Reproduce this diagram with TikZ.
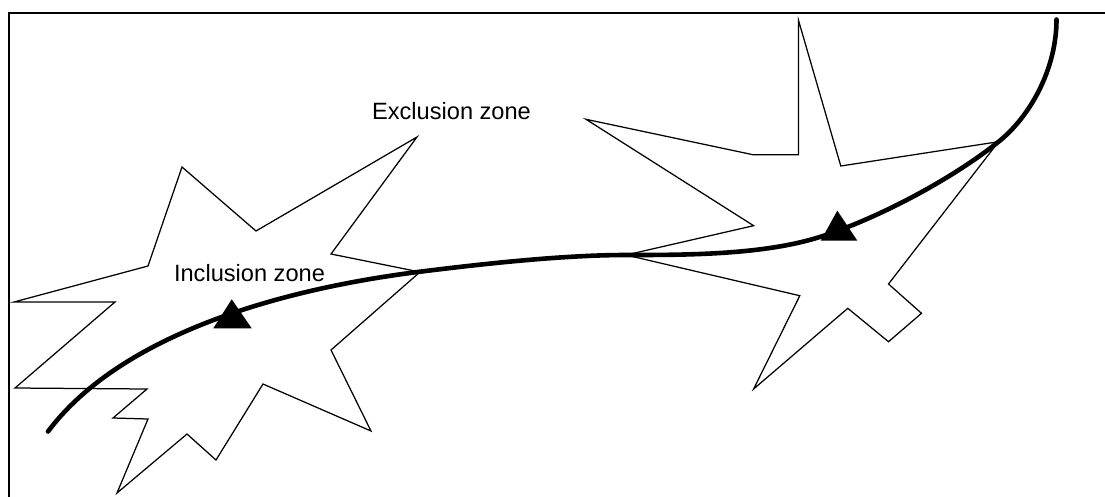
\documentclass[tikz,border=0pt]{standalone}
\usepackage{fontspec}
\setmainfont{Liberation Sans}
\begin{document}
\begin{tikzpicture}[x=1pt,y=-1pt,
  zone/.style={draw=black,line width=1.25pt,line join=miter},
  track/.style={draw=black,line width=4.6pt,line cap=round},
  marker/.style={fill=black,draw=none},
  frameline/.style={draw=black,line width=2pt},
  lbl/.style={font=\fontsize{23.6}{27}\selectfont,inner sep=0pt,anchor=base}]
\useasboundingbox (0,0) rectangle (1105,496);
\fill[white] (0,0) rectangle (1105,496);
% frame
\draw[frameline] (8.5,500) -- (8.5,13.3) -- (1110,13.3);
% left zone (inclusion)
\draw[zone] (417,137) -- (256,231) -- (182,167) -- (148,266) -- (14,302)
  -- (115,302) -- (15,388) -- (147,389) -- (113,418) -- (148,419)
  -- (117,493) -- (187,434) -- (216,460) -- (263,384) -- (371,431)
  -- (331,350) -- (420,272) -- (331,254) -- cycle;
% right zone (exclusion)
\draw[zone] (798.4,20) -- (840.8,166) -- (998.6,141.7) -- (888.5,284)
  -- (921.5,313.3) -- (888.5,341.7) -- (847.8,308.3) -- (753.6,389)
  -- (799.8,295.7) -- (626,255) -- (753.6,225.7) -- (586,119.3)
  -- (752.9,154.7) -- (798.4,154.7) -- cycle;
% track
\coordinate (t0) at (48,431.5);
\coordinate (t1) at (420,271.7);
\coordinate (t2) at (626,255);
\coordinate (t3) at (820.7,236.7);
\coordinate (t4) at (998.6,141.7);
\coordinate (t5) at (1056.5,19.5);
\draw[track] (t0) .. controls (118,338) and (271.2,290.3) .. (t1)
  .. controls (489.4,263.0) and (566,255) .. (t2)
  .. controls (686,255) and (763.6,255) .. (t3)
  .. controls (877.8,218.4) and (951.8,179.2) .. (t4)
  .. controls (1029.8,116.7) and (1056.5,69.5) .. (t5);
% markers
\fill[marker] (231.7,299.3) -- (251.7,328.3) -- (213.3,328.3) -- cycle;
\fill[marker] (837.3,210.7) -- (857.3,240.7) -- (820.7,240.7) -- cycle;
% labels
\node[lbl] (excl) at (451.5,119.3) {Exclusion zone};
\node[lbl] (incl) at (249.5,281.7) {Inclusion zone};
\end{tikzpicture}
\end{document}
